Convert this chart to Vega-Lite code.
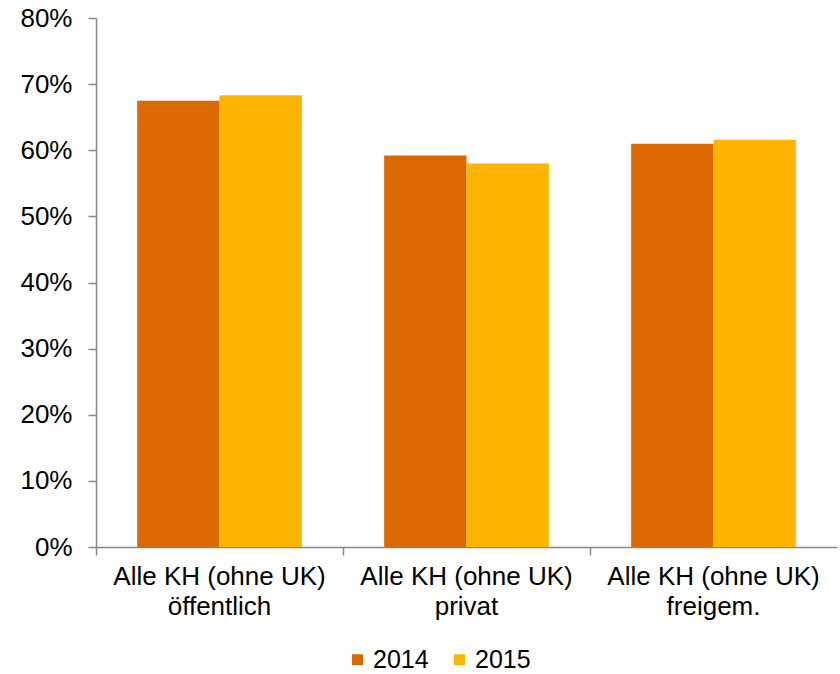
{
  "$schema": "https://vega.github.io/schema/vega-lite/v6.json",
  "autosize": {"type": "none"},
  "width": 741,
  "height": 529,
  "padding": {"left": 96, "top": 18, "right": 3, "bottom": 127},
  "background": "white",
  "config": {
    "view": {"stroke": null},
    "font": "Liberation Sans",
    "axis": {"grid": false, "domainColor": "#888888", "tickColor": "#888888", "domainWidth": 1.5, "tickWidth": 1.5, "labelColor": "#000000", "labelFont": "Liberation Sans", "labelFontSize": 26, "labelLimit": 0, "title": null}
  },
  "data": {
    "values": [
      {"group": "öffentlich", "year": "2014", "share": 0.675},
      {"group": "öffentlich", "year": "2015", "share": 0.683},
      {"group": "privat", "year": "2014", "share": 0.592},
      {"group": "privat", "year": "2015", "share": 0.580},
      {"group": "freigem.", "year": "2014", "share": 0.610},
      {"group": "freigem.", "year": "2015", "share": 0.616}
    ]
  },
  "mark": {"type": "bar"},
  "encoding": {
    "x": {
      "field": "group",
      "type": "nominal",
      "sort": ["öffentlich", "privat", "freigem."],
      "scale": {"paddingInner": 0, "paddingOuter": 0},
      "axis": {
        "labelAngle": 0,
        "bandPosition": 0,
        "tickSize": 8,
        "labelPadding": 8,
        "labelLineHeight": 30,
        "labelBound": false,
        "labelOverlap": false,
        "labelExpr": "['Alle KH (ohne UK)', datum.label]"
      }
    },
    "xOffset": {
      "field": "year",
      "type": "nominal",
      "scale": {"paddingInner": 0, "paddingOuter": 0.5}
    },
    "y": {
      "field": "share",
      "type": "quantitative",
      "scale": {"domain": [0, 0.8], "nice": false},
      "axis": {"format": ".0%", "values": [0, 0.1, 0.2, 0.3, 0.4, 0.5, 0.6, 0.7, 0.8], "tickSize": 8, "labelPadding": 16}
    },
    "color": {
      "field": "year",
      "type": "nominal",
      "scale": {"domain": ["2014", "2015"], "range": ["#DC6900", "#FFB400"]},
      "legend": {
        "title": null,
        "orient": "none",
        "direction": "horizontal",
        "legendX": 249,
        "legendY": 629,
        "symbolType": "square",
        "symbolSize": 121,
        "symbolStrokeWidth": 0,
        "labelFontSize": 25,
        "labelFont": "Liberation Sans",
        "labelColor": "#000000",
        "labelOffset": 3,
        "columnPadding": 18
      }
    }
  }
}
